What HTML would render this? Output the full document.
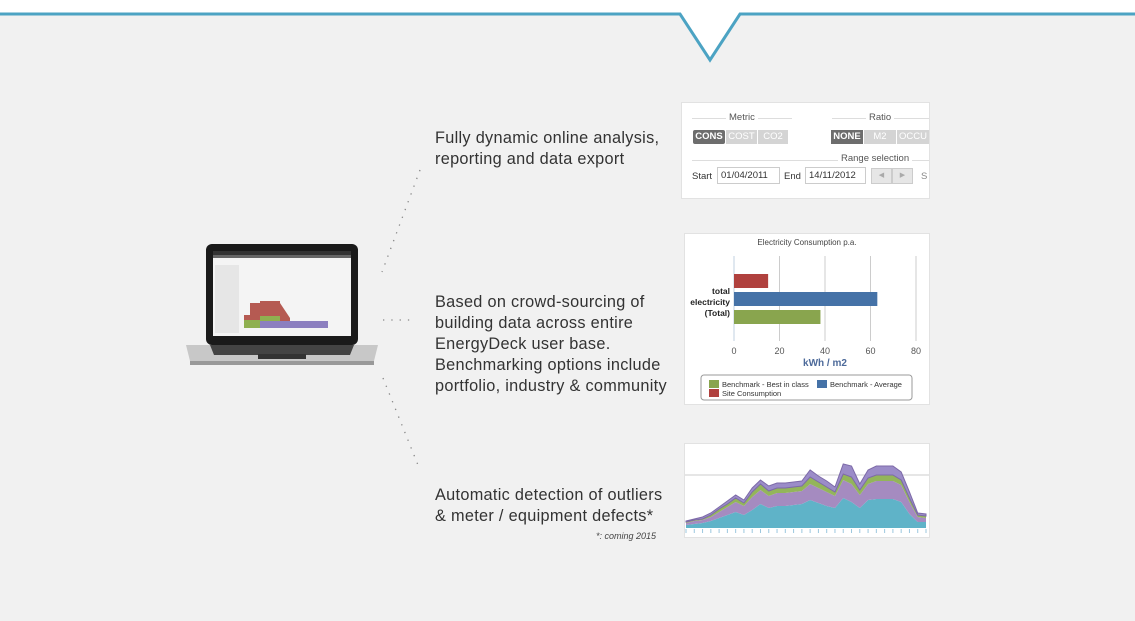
<!DOCTYPE html>
<html><head><meta charset="utf-8">
<style>
body{margin:0;width:1135px;height:621px;background:#f1f1f1;position:relative;overflow:hidden;font-family:"Liberation Sans",sans-serif}
.t{position:absolute;left:435px;font-size:16.3px;letter-spacing:0.3px;color:#333;line-height:21px}
.panel{position:absolute;background:#fff;border:1px solid #e2e2e2}
</style></head><body>
<svg width="1135" height="70" style="position:absolute;left:0;top:0">
<rect x="0" y="0" width="1135" height="14" fill="#ffffff"/>
<polygon points="680,14 710,60 740,14" fill="#ffffff"/>
<polyline points="0,14 680,14 710,60 740,14 1135,14" fill="none" stroke="#4ca3c3" stroke-width="3"/>
</svg>

<svg width="200" height="140" style="position:absolute;left:180px;top:235px">
<rect x="26" y="9" width="152" height="101" rx="6" fill="#1a1a1a"/>
<rect x="33" y="16" width="138" height="85" fill="#f4f4f4"/>
<rect x="33" y="16" width="138" height="4" fill="#333"/>
<rect x="33" y="20" width="138" height="3" fill="#666"/>
<rect x="35" y="30" width="24" height="68" fill="#e6e6e6"/>
<polygon points="64,93 64,80 70,80 70,68 80,68 80,66 100,66 100,68 110,83 110,93" fill="#b55a52"/>
<polygon points="64,93 64,85 80,85 80,81 100,81 100,93" fill="#8fb050"/>
<polygon points="80,93 80,86 148,86 148,93" fill="#8c7fbf"/>
<polygon points="6,110 198,110 194,126 10,126" fill="#c8c8c8"/>
<polygon points="30,110 174,110 170,120 34,120" fill="#444"/>
<rect x="78" y="119" width="48" height="5" fill="#333"/>
<rect x="10" y="126" width="184" height="4" fill="#999"/>
</svg>

<svg width="1135" height="621" style="position:absolute;left:0;top:0">
<line x1="420" y1="170" x2="382" y2="272" stroke="#888" stroke-width="1.3" stroke-dasharray="1.3 7"/>
<line x1="383" y1="320" x2="414" y2="320" stroke="#888" stroke-width="1.3" stroke-dasharray="1.3 7"/>
<line x1="383" y1="378" x2="420" y2="470" stroke="#888" stroke-width="1.3" stroke-dasharray="1.3 7"/>
</svg>

<div class="t" style="top:128px">Fully dynamic online analysis,<br>reporting and data export</div>
<div class="t" style="top:292px">Based on crowd-sourcing of<br>building data across entire<br>EnergyDeck user base.<br>Benchmarking options include<br>portfolio, industry &amp; community</div>
<div class="t" style="top:485px">Automatic detection of outliers<br>&amp; meter / equipment defects*</div>
<div style="position:absolute;left:560px;width:96px;text-align:right;top:531px;font-size:9px;font-style:italic;color:#444">*: coming 2015</div>

<div class="panel" style="left:681px;top:102px;width:247px;height:95px;font-size:9.5px;color:#555">
<div style="position:absolute;left:10px;top:15px;width:100px;border-top:1px solid #ddd"></div>
<div style="position:absolute;left:44px;top:9px;background:#fff;padding:0 3px">Metric</div>
<div style="position:absolute;left:150px;top:15px;width:97px;border-top:1px solid #ddd"></div>
<div style="position:absolute;left:184px;top:9px;background:#fff;padding:0 3px">Ratio</div>
<div style="position:absolute;left:11px;top:27px;width:32px;height:14px;background:#6d6d6d;color:#fff;text-align:center;line-height:14px;font-weight:bold;border-radius:2px">CONS</div>
<div style="position:absolute;left:44px;top:27px;width:31px;height:14px;background:#d4d4d4;color:#fff;text-align:center;line-height:14px">COST</div>
<div style="position:absolute;left:76px;top:27px;width:30px;height:14px;background:#d4d4d4;color:#fff;text-align:center;line-height:14px">CO2</div>
<div style="position:absolute;left:149px;top:27px;width:32px;height:14px;background:#6d6d6d;color:#fff;text-align:center;line-height:14px;font-weight:bold">NONE</div>
<div style="position:absolute;left:182px;top:27px;width:32px;height:14px;background:#d4d4d4;color:#fff;text-align:center;line-height:14px">M2</div>
<div style="position:absolute;left:215px;top:27px;width:32px;height:14px;background:#d4d4d4;color:#fff;text-align:center;line-height:14px">OCCU</div>
<div style="position:absolute;left:10px;top:57px;width:237px;border-top:1px solid #ddd"></div>
<div style="position:absolute;left:156px;top:50px;background:#fff;padding:0 3px">Range selection</div>
<div style="position:absolute;left:10px;top:68px;color:#333">Start</div>
<div style="position:absolute;left:35px;top:64px;width:58px;height:15px;border:1px solid #ccc;color:#333;line-height:15px;padding-left:3px">01/04/2011</div>
<div style="position:absolute;left:102px;top:68px;color:#333">End</div>
<div style="position:absolute;left:123px;top:64px;width:56px;height:15px;border:1px solid #ccc;color:#333;line-height:15px;padding-left:3px">14/11/2012</div>
<div style="position:absolute;left:189px;top:65px;width:19px;height:14px;background:#e6e6e6;border:1px solid #ccc;color:#aaa;font-size:7px;text-align:center;line-height:14px">◀</div>
<div style="position:absolute;left:210px;top:65px;width:19px;height:14px;background:#e6e6e6;border:1px solid #ccc;color:#aaa;font-size:7px;text-align:center;line-height:14px">▶</div>
<div style="position:absolute;left:239px;top:68px;color:#888">S</div>
</div>

<div class="panel" style="left:684px;top:233px;width:244px;height:170px">
<svg id="bar" width="244" height="170"></svg>
</div>

<div class="panel" style="left:684px;top:443px;width:244px;height:93px">
<svg id="area" width="244" height="93"></svg>
</div>

<script>
const barCategories=["Site Consumption","Benchmark - Average","Benchmark - Best in class"];
const barValues=[15,63,38];
const barColors=["#b0413e","#4572a7","#89a54e"];
const xTicks=[0,20,40,60,80];

const teal=[3,4,5,7,10,13,16,13,18,24,20,22,22,23,24,28,25,22,20,30,26,20,28,29,29,29,26,14,6,6];
const purple=[2,3,3,4,6,8,10,9,13,14,12,13,13,13,13,16,15,14,12,18,18,13,16,18,18,18,17,12,5,4];
const green=[1,1,1,2,3,3,4,3,5,6,5,5,5,5,5,7,6,5,4,6,7,5,6,6,6,6,5,4,2,2];
const topLayer=[1,1,2,2,2,3,3,3,4,4,5,5,5,5,5,7,6,6,5,10,11,6,8,9,9,9,8,6,2,2];

const NS="http://www.w3.org/2000/svg";
function mk(p,tag,at){const e=document.createElementNS(NS,tag);for(const k in at)e.setAttribute(k,at[k]);p.appendChild(e);return e;}
const bar=document.getElementById('bar');
const x0=49,x1=231,xmax=80;
const xs=v=>x0+(x1-x0)*v/xmax;
let t=mk(bar,'text',{x:122,y:11,'font-size':8,'text-anchor':'middle',fill:'#444'});t.textContent='Electricity Consumption p.a.';


xTicks.forEach(v=>{
 const g=mk(bar,'line',{x1:xs(v),x2:xs(v),y1:22,y2:107,stroke:v===0?'#c0d0e0':'#ccc','stroke-width':1});
 
 
 const l=mk(bar,'text',{x:xs(v),y:120,'font-size':9,'text-anchor':'middle',fill:'#555'});l.textContent=v;
 
 
});
barValues.forEach((v,i)=>{
 const r=mk(bar,'rect',{x:x0,y:40+i*18,width:xs(v)-x0,height:14,fill:barColors[i]});
 
 
});
['total','electricity','(Total)'].forEach((s,i)=>{const e=mk(bar,'text',{x:45,y:60+i*11,'font-size':8.5,'text-anchor':'end',fill:'#222','font-weight':'bold'});e.textContent=s;
 
 });
t=mk(bar,'text',{x:140,y:132,'font-size':10,'text-anchor':'middle',fill:'#4d6a9a','font-weight':'bold'});t.textContent='kWh / m2';


const lb=mk(bar,'rect',{x:16,y:141,width:211,height:25,rx:3,fill:'#fff',stroke:'#999'});


[[24,146,2],[132,146,1],[24,155,0]].forEach(([lx,ly,i])=>{
 const s=mk(bar,'rect',{x:lx,y:ly,width:10,height:8,fill:barColors[i]});
 
 
 const e=mk(bar,'text',{x:lx+13,y:ly+7,'font-size':7.5,fill:'#333'});e.textContent=barCategories[i];
 
 
});
const area=document.getElementById('area');
const n=teal.length, ax0=1, ax1=241, base=84;
const axs=i=>ax0+(ax1-ax0)*i/(n-1);
const ays=v=>base-v;
const gl=mk(area,'line',{x1:0,x2:244,y1:31,y2:31,stroke:'#ccc'});


const layers=[[teal,'#5fb3c8'],[purple,'#a58bc0'],[green,'#93b55a'],[topLayer,'#9b8cc8']];
let cum=new Array(n).fill(0);
layers.forEach(([arr,col],li)=>{
 const lo=cum.slice(), hi=cum.map((c,i)=>c+arr[i]);
 let d='M'+hi.map((v,i)=>axs(i)+','+ays(v)).join(' L');
 for(let i=n-1;i>=0;i--)d+=' L'+axs(i)+','+ays(lo[i]);
 const p=mk(area,'path',{d:d+'Z',fill:col,stroke:li===3?'#7d6aa8':'none','stroke-width':1});
 
 
 cum=hi;
});
for(let i=0;i<n;i++){const tk=mk(area,'line',{x1:axs(i),x2:axs(i),y1:85,y2:89,stroke:'#9cc7de'});
 
 }
</script>
</body></html>
